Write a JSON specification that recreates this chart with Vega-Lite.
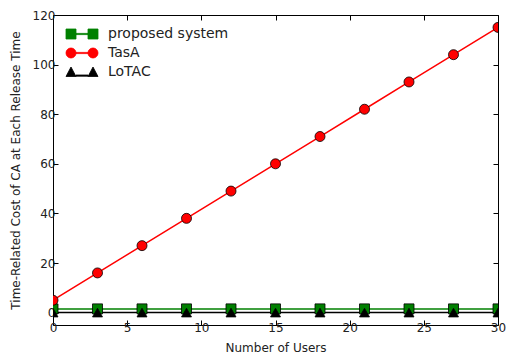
{
  "$schema": "https://vega.github.io/schema/vega-lite/v6.json",
  "width": 445,
  "height": 310,
  "autosize": "none",
  "padding": {"left": 53, "top": 15, "right": 8, "bottom": 31},
  "background": "white",
  "config": {
    "view": {"stroke": "#000", "strokeWidth": 1},
    "font": "DejaVu Sans",
    "axis": {
      "grid": false,
      "domain": false,
      "tickColor": "#000",
      "tickSize": -5,
      "labelColor": "#222",
      "titleColor": "#222",
      "labelFont": "DejaVu Sans",
      "titleFont": "DejaVu Sans",
      "labelFontSize": 12,
      "titleFontSize": 12,
      "titleFontWeight": "normal",
      "labelFlush": false
    }
  },
  "data": {
    "values": [
      {"users": 0, "cost": 1.5, "system": "proposed system"},
      {"users": 3, "cost": 1.5, "system": "proposed system"},
      {"users": 6, "cost": 1.5, "system": "proposed system"},
      {"users": 9, "cost": 1.5, "system": "proposed system"},
      {"users": 12, "cost": 1.5, "system": "proposed system"},
      {"users": 15, "cost": 1.5, "system": "proposed system"},
      {"users": 18, "cost": 1.5, "system": "proposed system"},
      {"users": 21, "cost": 1.5, "system": "proposed system"},
      {"users": 24, "cost": 1.5, "system": "proposed system"},
      {"users": 27, "cost": 1.5, "system": "proposed system"},
      {"users": 30, "cost": 1.5, "system": "proposed system"},
      {"users": 0, "cost": 5, "system": "TasA"},
      {"users": 3, "cost": 16, "system": "TasA"},
      {"users": 6, "cost": 27, "system": "TasA"},
      {"users": 9, "cost": 38, "system": "TasA"},
      {"users": 12, "cost": 49, "system": "TasA"},
      {"users": 15, "cost": 60, "system": "TasA"},
      {"users": 18, "cost": 71, "system": "TasA"},
      {"users": 21, "cost": 82, "system": "TasA"},
      {"users": 24, "cost": 93, "system": "TasA"},
      {"users": 27, "cost": 104, "system": "TasA"},
      {"users": 30, "cost": 115, "system": "TasA"},
      {"users": 0, "cost": 0, "system": "LoTAC"},
      {"users": 3, "cost": 0, "system": "LoTAC"},
      {"users": 6, "cost": 0, "system": "LoTAC"},
      {"users": 9, "cost": 0, "system": "LoTAC"},
      {"users": 12, "cost": 0, "system": "LoTAC"},
      {"users": 15, "cost": 0, "system": "LoTAC"},
      {"users": 18, "cost": 0, "system": "LoTAC"},
      {"users": 21, "cost": 0, "system": "LoTAC"},
      {"users": 24, "cost": 0, "system": "LoTAC"},
      {"users": 27, "cost": 0, "system": "LoTAC"},
      {"users": 30, "cost": 0, "system": "LoTAC"}
    ]
  },
  "layer": [
    {
      "encoding": {
        "x": {
          "field": "users",
          "type": "quantitative",
          "scale": {"domain": [0, 30], "nice": false},
          "axis": {"title": "Number of Users", "values": [0, 5, 10, 15, 20, 25, 30], "labelPadding": 2, "titlePadding": 9}
        },
        "y": {
          "field": "cost",
          "type": "quantitative",
          "scale": {"domain": [-5, 120], "nice": false, "zero": false},
          "axis": {"title": "Time-Related Cost of CA at Each Release Time", "values": [0, 20, 40, 60, 80, 100, 120], "labelPadding": 3, "titlePadding": 10}
        },
        "color": {
          "field": "system",
          "type": "nominal",
          "scale": {"domain": ["proposed system", "TasA", "LoTAC"], "range": ["#008000", "#ff0000", "#000000"]},
          "legend": {
            "title": null,
            "orient": "none",
            "legendX": 11,
            "legendY": 12,
            "labelFont": "DejaVu Sans",
            "labelFontSize": 14,
            "labelColor": "#222",
            "symbolSize": 100,
            "labelOffset": 30,
            "rowPadding": 5,
            "padding": 0,
            "encode": {
              "symbols": {
                "update": {
                  "shape": {"signal": "datum.value === 'TasA' ? 'M1,0A1,1 0 1,1 -1,0A1,1 0 1,1 1,0ZM1,-0.12H3.4V0.12H1ZM5.4,0A1,1 0 1,1 3.4,0A1,1 0 1,1 5.4,0Z' : datum.value === 'LoTAC' ? 'M-1,0.9L0,-1L1,0.9ZM1,0.6H3.4V0.84H1ZM3.4,0.9L4.4,-1L5.4,0.9Z' : 'M-1,-1H1V1H-1ZM1,-0.12H3.4V0.12H1ZM3.4,-1H5.4V1H3.4Z'"},
                  "fill": {"signal": "scale('color', datum.value)"},
                  "stroke": {"value": "#000"},
                  "strokeWidth": {"value": 0.8},
                  "opacity": {"value": 1}
                }
              }
            }
          }
        }
      },
      "layer": [
        {
          "mark": {"type": "line", "strokeWidth": 1.5, "clip": true}
        },
        {
          "transform": [{"filter": "datum.system === 'proposed system'"}],
          "mark": {"type": "point", "shape": "square", "filled": true, "size": 100, "stroke": "#000", "strokeWidth": 0.8, "opacity": 1, "clip": true}
        },
        {
          "transform": [{"filter": "datum.system === 'TasA'"}],
          "mark": {"type": "point", "shape": "circle", "filled": true, "size": 100, "stroke": "#000", "strokeWidth": 0.8, "opacity": 1, "clip": true}
        },
        {
          "transform": [{"filter": "datum.system === 'LoTAC'"}],
          "mark": {"type": "point", "shape": "triangle-up", "filled": true, "size": 100, "stroke": "#000", "strokeWidth": 0.8, "opacity": 1, "clip": true}
        }
      ]
    },
    {
      "mark": {"type": "rule", "opacity": 0},
      "encoding": {
        "x": {"field": "users", "type": "quantitative", "scale": {"domain": [0, 30], "nice": false}, "axis": {"orient": "top", "labels": false, "title": null, "values": [0, 5, 10, 15, 20, 25, 30]}},
        "y": {"field": "cost", "type": "quantitative", "scale": {"domain": [-5, 120], "nice": false, "zero": false}, "axis": {"orient": "right", "labels": false, "title": null, "values": [0, 20, 40, 60, 80, 100, 120]}}
      }
    }
  ],
  "resolve": {"scale": {"x": "independent", "y": "independent"}}
}
